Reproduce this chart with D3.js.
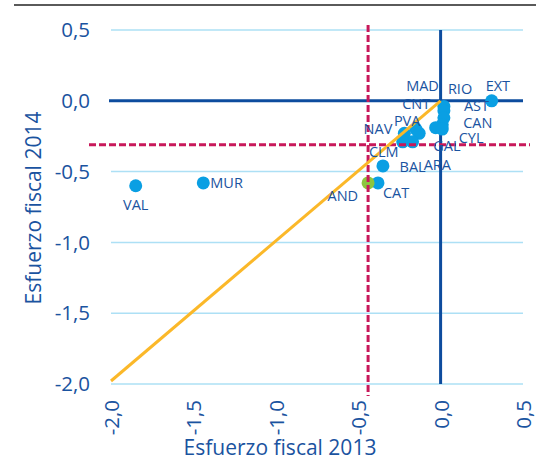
<!DOCTYPE html>
<html lang="es">
<head>
<meta charset="UTF-8">
<title>Esfuerzo fiscal</title>
<script src="https://d3js.org/d3.v7.min.js"></script>
<style>
  body { margin: 0; background: #fff; }
  text { font-family: "Open Sans", "DejaVu Sans", sans-serif; fill: #1a53a0; }
  .lbl { font-size: 14.5px; }
  .tick-lbl { font-size: 20.5px; }
  .title { font-size: 21px; }
</style>
</head>
<body>
<div id="chart"></div>
<script>
// regions and their fiscal effort (x = 2013, y = 2014)
const regions = ["EXT", "MAD", "RIO", "AST", "CAN", "CYL", "GAL", "PVA", "CNT", "NAV", "BAL", "ARA", "CLM", "CAT", "AND", "MUR", "VAL"];
const effort2013 = [0.31, 0.02, 0.02, 0.02, 0.01, -0.03, 0.01, -0.15, -0.13, -0.22, -0.17, -0.23, -0.35, -0.38, -0.44, -1.44, -1.85];
const effort2014 = [0.00, -0.04, -0.07, -0.12, -0.17, -0.19, -0.20, -0.20, -0.23, -0.23, -0.29, -0.29, -0.46, -0.58, -0.58, -0.58, -0.60];
const highlight = "AND";

// reference lines
const avg2013 = -0.44;
const avg2014 = -0.31;

const xTicks = [-2.0, -1.5, -1.0, -0.5, 0.0, 0.5];
const yTicks = [0.5, 0.0, -0.5, -1.0, -1.5, -2.0];

// label placement relative to each point: [dx, dy, anchor]
const labelPos = {
  EXT: [-6, -10, "start"], MAD: [-5, -15, "end"], RIO: [4, -17, "start"],
  AST: [20, -7, "start"], CAN: [21, 3, "start"], CYL: [23, 15, "start"],
  GAL: [-9, 22, "start"], PVA: [-22, -3, "start"], CNT: [-17, -24, "start"],
  NAV: [-12, 1, "end"], BAL: [-13, 30, "start"], ARA: [21, 28, "start"],
  CLM: [-14, -9, "start"], CAT: [5, 15, "start"], AND: [-10, 18, "end"],
  MUR: [7, 5, "start"], VAL: [0, 24, "middle"]
};

const W = 536, H = 461;
const svg = d3.select("#chart").append("svg").attr("width", W).attr("height", H);

const x = d3.scaleLinear().domain([-2, 0.5]).range([111, 523]);
const y = d3.scaleLinear().domain([0.5, -2]).range([30, 384]);

const fmt = d => d3.format(".1f")(d).replace(".", ",").replace("−", "-");

// top rule
svg.append("line").attr("x1", 14).attr("x2", W).attr("y1", 5).attr("y2", 5)
  .attr("stroke", "#5a5a5a").attr("stroke-width", 2);

// gridlines
svg.append("g").selectAll("line").data(yTicks.filter(d => d !== 0)).join("line")
  .attr("x1", x(-2)).attr("x2", x(0.5))
  .attr("y1", d => y(d)).attr("y2", d => y(d))
  .attr("stroke", "#ade0f5").attr("stroke-width", 1.5);

// zero axes
svg.append("line").attr("x1", x(-2) - 2).attr("x2", x(0.5))
  .attr("y1", y(0)).attr("y2", y(0))
  .attr("stroke", "#0d4c9e").attr("stroke-width", 3);
svg.append("line").attr("x1", x(0)).attr("x2", x(0))
  .attr("y1", y(0.5)).attr("y2", y(-2))
  .attr("stroke", "#0d4c9e").attr("stroke-width", 3);

// y tick labels
svg.append("g").selectAll("text").data(yTicks).join("text")
  .attr("class", "tick-lbl")
  .attr("x", 90).attr("y", d => y(d))
  .attr("dy", "0.35em").attr("text-anchor", "end")
  .text(fmt);

// x tick labels (rotated)
svg.append("g").selectAll("text").data(xTicks).join("text")
  .attr("class", "tick-lbl")
  .attr("transform", d => `translate(${x(d) + 8},400) rotate(-90)`)
  .attr("text-anchor", "end")
  .text(fmt);

// axis titles
svg.append("text").attr("class", "title")
  .attr("x", 280).attr("y", 455).attr("text-anchor", "middle")
  .text("Esfuerzo fiscal 2013");
svg.append("text").attr("class", "title")
  .attr("transform", "translate(41,208) rotate(-90)")
  .attr("text-anchor", "middle")
  .text("Esfuerzo fiscal 2014");

// points
const pts = regions.map((r, i) => ({ r, x: effort2013[i], y: effort2014[i] }));
svg.append("g").selectAll("circle").data(pts).join("circle")
  .attr("cx", d => x(d.x)).attr("cy", d => y(d.y)).attr("r", 6.5)
  .attr("fill", d => d.r === highlight ? "#8cc63f" : "#0a9fe3");

// reference dashed lines
svg.append("line").attr("x1", 89).attr("x2", 530)
  .attr("y1", y(avg2014)).attr("y2", y(avg2014))
  .attr("stroke", "#c8185a").attr("stroke-width", 3).attr("stroke-dasharray", "7,3");
svg.append("line").attr("x1", x(avg2013)).attr("x2", x(avg2013))
  .attr("y1", 25).attr("y2", 396)
  .attr("stroke", "#c8185a").attr("stroke-width", 3).attr("stroke-dasharray", "7,3");

// 45 degree line
svg.append("line").attr("x1", x(-2)).attr("x2", x(0))
  .attr("y1", y(-2) - 3).attr("y2", y(0))
  .attr("stroke", "#fbb829").attr("stroke-width", 3);

// labels
svg.append("g").selectAll("text").data(pts).join("text")
  .attr("class", "lbl")
  .attr("x", d => x(d.x) + labelPos[d.r][0])
  .attr("y", d => y(d.y) + labelPos[d.r][1])
  .attr("text-anchor", d => labelPos[d.r][2])
  .text(d => d.r);
</script>
</body>
</html>
